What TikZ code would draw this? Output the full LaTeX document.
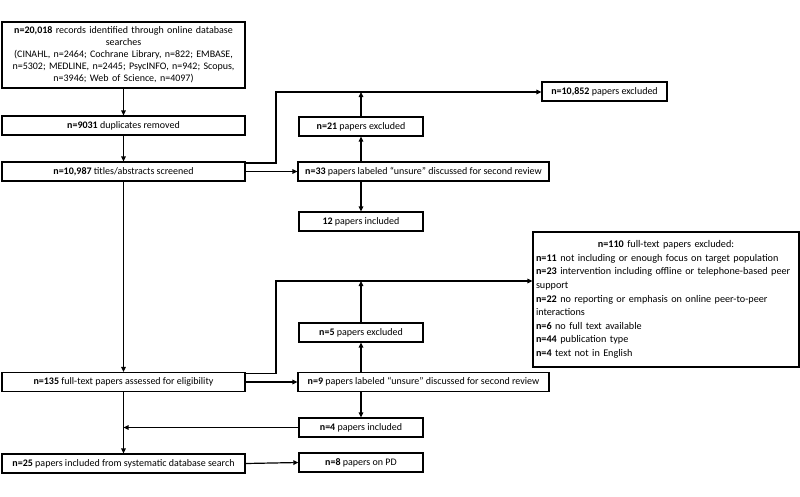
\documentclass[tikz,border=0pt]{standalone}
\usepackage{fontspec}
\setmainfont{Carlito}
\usetikzlibrary{arrows.meta,calc}
\newcommand{\linew}{1.2pt}
\newcommand{\boxfont}{\fontsize{10}{12}\selectfont}

\begin{document}
\begin{tikzpicture}[x=1pt,y=-1pt,
  box/.style={draw,line width=\linew,minimum height=19pt,inner sep=0pt,font=\boxfont,align=center},
  arr/.style={line width=\linew,-{Triangle[length=5pt,width=4.5pt]}},
  ln/.style={line width=\linew}]
\useasboundingbox (0,0) rectangle (800,496);
%left column
\node[box,minimum width=243pt,minimum height=66pt,text width=240pt] (rec) at (123.5,55) {\textbf{n=20,018} records identified through online database\\ searches\\ (CINAHL, n=2464; Cochrane Library, n=822; EMBASE,\\ n=5302; MEDLINE, n=2445; PsycINFO, n=942; Scopus,\\ n=3946; Web of Science, n=4097)};
\node[box,minimum width=243pt] (dup) at (123.5,125.5) {\textbf{n=9031} duplicates removed};
\node[box,minimum width=243pt] (scr) at (123.5,171.5) {\textbf{n=10,987} titles/abstracts screened};
\node[box,minimum width=243pt] (ft) at (123.5,382) {\textbf{n=135} full-text papers assessed for eligibility};
\node[box,minimum width=243pt] (inc) at (123.5,463.5) {\textbf{n=25} papers included from systematic database search};
%screening
\node[box,minimum width=125pt] (ex1) at (604.5,91.5) {\textbf{n=10,852} papers excluded};
\node[box,minimum width=124pt] (ex2) at (361,126.5) {\textbf{n=21} papers excluded};
\node[box,minimum width=251pt] (uns1) at (423.5,171.5) {\textbf{n=33} papers labeled ``unsure'' discussed for second review};
\node[box,minimum width=124pt] (inc1) at (361,221.5) {\textbf{12} papers included};
%full text
\node[box,minimum width=266pt,minimum height=135pt,text width=260pt,align=left,font=\fontsize{10.2}{13.6}\selectfont] (ex3) at (666,299.5) {\makebox[260pt][c]{\textbf{n=110} full-text papers excluded:}\\ \textbf{n=11} not including or enough focus on target population\\ \textbf{n=23} intervention including offline or telephone-based peer\\ support\\ \textbf{n=22} no reporting or emphasis on online peer-to-peer\\ interactions\\ \textbf{n=6} no full text available\\ \textbf{n=44} publication type\\ \textbf{n=4} text not in English};
\node[box,minimum width=124pt] (ex4) at (361,332.5) {\textbf{n=5} papers excluded};
\node[box,minimum width=251pt] (uns2) at (423.5,382) {\textbf{n=9} papers labeled ``unsure'' discussed for second review};
\node[box,minimum width=124pt] (inc2) at (361,427.5) {\textbf{n=4} papers included};
\node[box,minimum width=124pt] (pd) at (361,462.5) {\textbf{n=8} papers on PD};
\coordinate (j1) at (276,92);
\coordinate (j2) at (276,281);
%arrows
\draw[arr] (rec.south) -- (dup.north);
\draw[arr] (dup.south) -- (scr.north);
\draw[arr] ([yshift=8.5pt]scr.east) -| (j1) -- (ex1.west |- j1);
\draw[arr] (scr.east) -- (uns1.west);
\draw[arr] (uns1.north -| ex2) -- (ex2.south);
\draw[arr] (ex2.north) -- (ex2 |- j1);
\draw[arr] (uns1.south -| inc1) -- (inc1.north);
\draw[arr] (scr.south) -- (ft.north);
\draw[arr] ([yshift=8.5pt]ft.east) -| (j2) -- (ex3.west |- j2);
\draw[arr] (ft.east) -- (uns2.west);
\draw[arr] (uns2.north -| ex4) -- (ex4.south);
\draw[arr] (ex4.north) -- (ex4 |- j2);
\draw[arr] (uns2.south -| inc2) -- (inc2.north);
\draw[arr] (inc2.west) -- (ft |- inc2);
\draw[arr] (ft.south) -- (inc.north);
\draw[arr] (inc.east) -- (pd.west);
\end{tikzpicture}
\end{document}
